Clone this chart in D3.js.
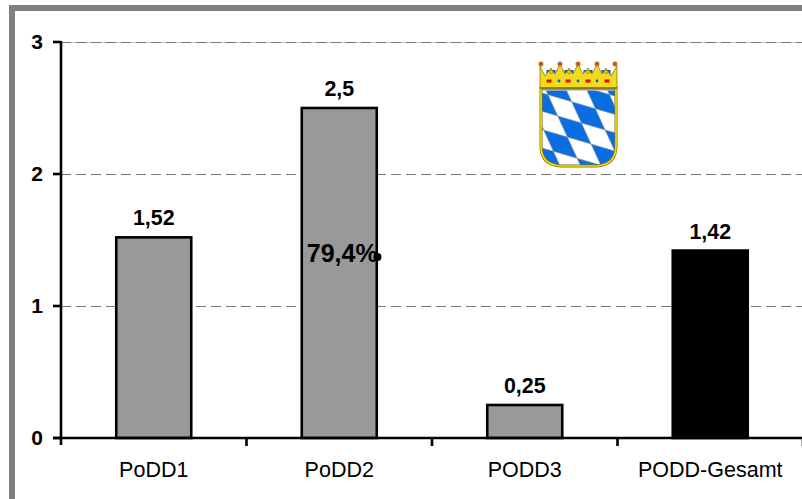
<!DOCTYPE html>
<html><head><meta charset="utf-8">
<script src="https://cdnjs.cloudflare.com/ajax/libs/d3/7.8.5/d3.min.js"></script>
<style>html,body{margin:0;padding:0;background:#fff}svg{display:block}text{font-family:"Liberation Sans",Arial,sans-serif;fill:#000}</style>
</head><body><svg id="c" width="802" height="499"></svg>
<script>
const categories = ["PoDD1","PoDD2","PODD3","PODD-Gesamt"];
const values = [1.52,2.5,0.25,1.42];
const valueLabels = ["1,52","2,5","0,25","1,42"];
const barColors = ["#999999","#999999","#999999","#000000"];
const yTicks = [0,1,2,3];
const note = "79,4%";

const svg = d3.select("#c");
svg.append("path").attr("d","M802,8H12V499").attr("fill","none").attr("stroke","#808080").attr("stroke-width",6);

const x = d3.scaleBand().domain(categories).range([61,803]).padding(0);
const y = d3.scaleLinear().domain([0,3]).range([438,42]);
const barW = 75;

svg.append("line").attr("x1",61).attr("x2",802).attr("y1",y(3)+.5).attr("y2",y(3)+.5).attr("stroke","#c4c4c4");
svg.append("g").selectAll("line").data(yTicks.slice(1)).join("line")
  .attr("x1",61).attr("x2",802).attr("y1",d=>y(d)+.5).attr("y2",d=>y(d)+.5)
  .attr("stroke","#777").attr("stroke-width",1).attr("stroke-dasharray","10 5");

svg.append("g").selectAll("rect").data(categories).join("rect")
  .attr("x",d=>x(d)+x.bandwidth()/2-barW/2)
  .attr("width",barW)
  .attr("y",(d,i)=>y(values[i]))
  .attr("height",(d,i)=>y(0)-y(values[i]))
  .attr("fill",(d,i)=>barColors[i]).attr("stroke","#000").attr("stroke-width",2.6);

svg.append("g").selectAll("text").data(categories).join("text")
  .attr("x",d=>x(d)+x.bandwidth()/2).attr("y",(d,i)=>y(values[i])-12)
  .attr("text-anchor","middle").attr("font-size",21.4).attr("font-weight",700)
  .text((d,i)=>valueLabels[i]);

svg.append("text").attr("x",x("PoDD2")+x.bandwidth()/2+3).attr("y",261.5)
  .attr("text-anchor","middle").attr("font-size",25).attr("font-weight",700).text(note);
svg.append("circle").attr("cx",377.5).attr("cy",257).attr("r",4).attr("fill","#000");

// axes
const ax = svg.append("g");
ax.append("line").attr("x1",61).attr("x2",61).attr("y1",41).attr("y2",445).attr("stroke","#000").attr("stroke-width",2.6);
ax.append("line").attr("x1",53).attr("x2",802).attr("y1",y(0)).attr("y2",y(0)).attr("stroke","#000").attr("stroke-width",2.6);
ax.selectAll(".yt").data(yTicks).join("line").attr("class","yt")
  .attr("x1",53).attr("x2",61).attr("y1",d=>y(d)).attr("y2",d=>y(d)).attr("stroke","#000").attr("stroke-width",2.6);
ax.selectAll(".xt").data(categories).join("line").attr("class","xt")
  .attr("x1",d=>x(d)+x.bandwidth()).attr("x2",d=>x(d)+x.bandwidth()).attr("y1",438).attr("y2",446).attr("stroke","#000").attr("stroke-width",2.6);
ax.selectAll(".yl").data(yTicks).join("text").attr("class","yl")
  .attr("x",43).attr("y",d=>y(d)+7).attr("text-anchor","end").attr("font-size",21).attr("font-weight",700).text(d=>d);
ax.selectAll(".xl").data(categories).join("text").attr("class","xl")
  .attr("x",d=>x(d)+x.bandwidth()/2).attr("y",477).attr("text-anchor","middle").attr("font-size",21.5).text(d=>d);

// Coat of arms (decoration)
const crest = svg.append("g");
const shieldPath = "M541,88H616V146Q616,165 596,166H561Q541,165 541,146Z";
crest.append("clipPath").attr("id","shield").append("path").attr("d",shieldPath);
crest.append("path").attr("d",shieldPath).attr("fill","#fff");
const a=[23.7,7], b=[9.7,21.2], p0=[571.7,101.7];
const cells=[];
for(let i=-5;i<=5;i++)for(let j=-5;j<=5;j++){ if((i+j)%2===0) cells.push([i,j]); }
crest.append("g").attr("clip-path","url(#shield)").selectAll("path").data(cells).join("path")
  .attr("fill","#0a6ee0").attr("stroke","#8a95a5").attr("stroke-width",.7)
  .attr("d",([i,j])=>{
    const px=p0[0]+i*a[0]+j*b[0], py=p0[1]+i*a[1]+j*b[1];
    return `M${px},${py}l${a[0]},${a[1]}l${b[0]},${b[1]}l${-a[0]},${-a[1]}Z`;
  });
crest.append("rect").attr("x",542).attr("y",88.5).attr("width",73).attr("height",2.2).attr("fill","#c0c0c0");
crest.append("path").attr("d",shieldPath).attr("fill","none").attr("stroke","#7a7220").attr("stroke-width",3);
crest.append("path").attr("d",shieldPath).attr("fill","none").attr("stroke","#f2d800").attr("stroke-width",1.7);
// crown
const tips=[541,560,578,597,615];
const gaps=[551,569,588,606];
crest.selectAll(".gap").data(gaps).join("rect").attr("class","gap")
  .attr("x",d=>d-4.5).attr("y",70).attr("width",9).attr("height",6).attr("fill","#1c4fb0");
crest.append("path")
  .attr("d","M540,88V66L545,76L551,68L555,74L560,64L565,74L569,68L573,74L578,64L583,74L588,68L592,74L597,64L602,74L606,68L611,76L617,66V88Z")
  .attr("fill","#f2da1e").attr("stroke","#8a7a20").attr("stroke-width",.8);
crest.selectAll(".tip").data(tips).join("circle").attr("class","tip")
  .attr("cx",d=>d).attr("cy",64).attr("r",2.2).attr("fill","#d9482a").attr("stroke","#a88a20").attr("stroke-width",.8);
crest.selectAll(".fl").data(gaps).join("circle").attr("class","fl")
  .attr("cx",d=>d).attr("cy",72).attr("r",1.6).attr("fill","#f2da1e").attr("stroke","#6a6020").attr("stroke-width",.6);
crest.selectAll(".red").data([549,568,588,607]).join("rect").attr("class","red")
  .attr("x",d=>d-2.5).attr("y",79.5).attr("width",5).attr("height",3).attr("fill","#e01010");
crest.selectAll(".blu").data([559,578,597]).join("circle").attr("class","blu")
  .attr("cx",d=>d).attr("cy",81).attr("r",1.4).attr("fill","#1060d0");
crest.append("line").attr("x1",540).attr("x2",617).attr("y1",88).attr("y2",88).attr("stroke","#5a5220").attr("stroke-width",1);
</script></body></html>
